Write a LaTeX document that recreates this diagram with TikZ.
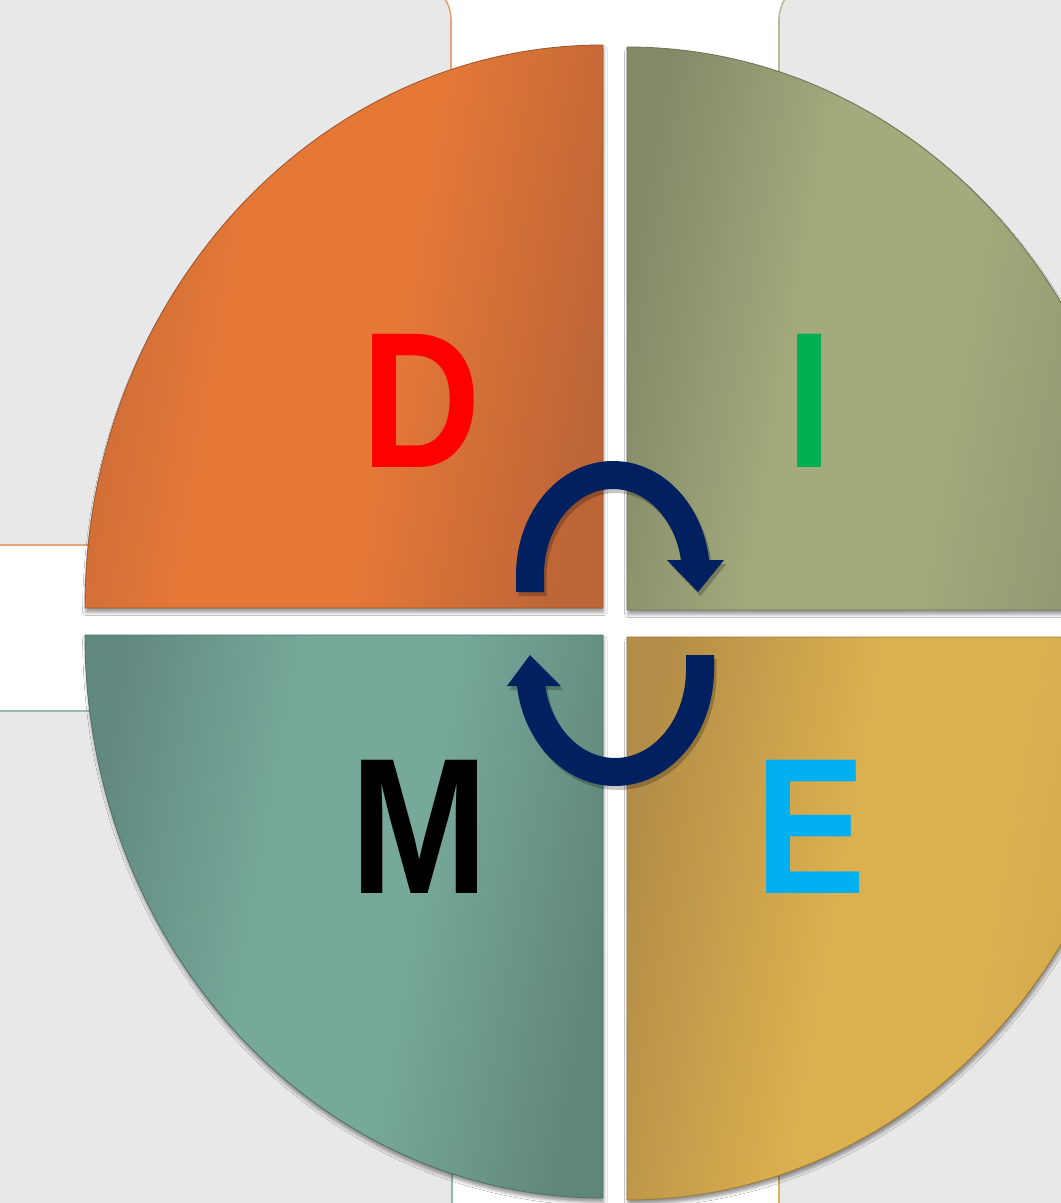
\documentclass[tikz,border=0pt]{standalone}
\usepackage{fontspec}
\usepackage{graphicx}
\setmainfont{Liberation Sans}
\usetikzlibrary{shadows.blur}
\definecolor{bggray}{HTML}{E8E8E8}
\definecolor{lnorange}{HTML}{E6A47A}
\definecolor{lnolive}{HTML}{B7BC98}
\definecolor{lnteal}{HTML}{92BAB0}
\definecolor{lngold}{HTML}{D8B457}
\definecolor{orangeL}{HTML}{C96A37}
\definecolor{orangeM}{HTML}{E57837}
\definecolor{orangeR}{HTML}{BC6537}
\definecolor{oliveL}{HTML}{848968}
\definecolor{oliveM}{HTML}{A3AA7B}
\definecolor{oliveR}{HTML}{8F9670}
\definecolor{tealL}{HTML}{628980}
\definecolor{tealM}{HTML}{76A99A}
\definecolor{tealR}{HTML}{608679}
\definecolor{goldL}{HTML}{B48E48}
\definecolor{goldM}{HTML}{DCB04F}
\definecolor{goldR}{HTML}{CFA54B}
\definecolor{navy}{HTML}{002060}
\definecolor{letterred}{HTML}{FF0000}
\definecolor{lettergreen}{HTML}{00B050}
\definecolor{lettercyan}{HTML}{00B0F0}
\pgfdeclarehorizontalshading{orangeshade}{100bp}{color(0bp)=(orangeL); color(25bp)=(orangeL); color(39bp)=(orangeM); color(55bp)=(orangeM); color(75bp)=(orangeR); color(100bp)=(orangeR)}
\pgfdeclarehorizontalshading{oliveshade}{100bp}{color(0bp)=(oliveL); color(25bp)=(oliveL); color(42bp)=(oliveM); color(56bp)=(oliveM); color(75bp)=(oliveR); color(100bp)=(oliveR)}
\pgfdeclarehorizontalshading{tealshade}{100bp}{color(0bp)=(tealL); color(25bp)=(tealL); color(42bp)=(tealM); color(56bp)=(tealM); color(75bp)=(tealR); color(100bp)=(tealR)}
\pgfdeclarehorizontalshading{goldshade}{100bp}{color(0bp)=(goldL); color(25bp)=(goldL); color(45bp)=(goldM); color(60bp)=(goldM); color(75bp)=(goldR); color(100bp)=(goldR)}
\newcommand{\dimeletter}[1]{\scalebox{0.89}[1.04]{#1}}
\begin{document}
\begin{tikzpicture}[x=0.02cm,y=0.02cm,
  bgpanel/.style={fill=bggray, line width=0.9pt, rounded corners=0.8cm},
  quad/.style={blur shadow={shadow xshift=0.5pt, shadow yshift=-2.5pt, shadow blur radius=1.8pt, shadow opacity=40}, line width=0.5pt},
  letter/.style={font=\fontsize{106}{106}\selectfont\bfseries, inner sep=0pt, anchor=base},
  cyc/.style={draw=navy, line width=0.56cm},
  cycshadow/.style={draw=black, opacity=0.22, line width=0.56cm},
  cychead/.style={fill=navy}
]
\useasboundingbox (0,0) rectangle (1061,-1203);
\clip (0,0) rectangle (1061,-1203);
\fill[white] (0,0) rectangle (1061,-1203);

% background panels
\path[bgpanel, draw=lnorange] (-60,20) rectangle (451,-545);
\path[bgpanel, draw=lnolive] (779,20) rectangle (1120,-545);
\path[bgpanel, draw=lnteal] (-60,-711) rectangle (452,-1260);
\path[bgpanel, draw=lngold] (779,-711) rectangle (1120,-1260);

% quadrants
\shadedraw[quad, shading=orangeshade, shading angle=-10, draw=orangeR!85!black]
  (603,-608) -- (85,-608) arc[start angle=180, end angle=90, x radius=518, y radius=563] -- cycle;
\shadedraw[quad, shading=oliveshade, shading angle=-10, draw=oliveL!85!black]
  (627,-610) -- (627,-47) arc[start angle=90, end angle=0, x radius=518, y radius=563] -- cycle;
\shadedraw[quad, shading=tealshade, shading angle=-10, draw=tealR!85!black]
  (603,-635) -- (85,-635) arc[start angle=180, end angle=270, x radius=518, y radius=563] -- cycle;
\shadedraw[quad, shading=goldshade, shading angle=-10, draw=goldL!85!black]
  (627,-637) -- (627,-1200) arc[start angle=270, end angle=360, x radius=518, y radius=563] -- cycle;

% letters
\node[letter, text=letterred] (D) at (421,-467) {\dimeletter{D}};
\node[letter, text=lettergreen] (I) at (810,-467) {\dimeletter{I}};
\node[letter, text=black] (M) at (420,-893) {\dimeletter{M}};
\node[letter, text=lettercyan] (E) at (811,-893) {\dimeletter{E}};

% cycle arrows: shadows
\begin{scope}[xshift=0.05cm, yshift=-0.08cm]
\draw[cycshadow] (530,-592) -- (530,-575) arc[start angle=180, end angle=4, x radius=83, y radius=100];
\fill[black, opacity=0.22] (667,-560) -- (724,-560) -- (698,-592) -- cycle;
\draw[cycshadow] (700,-655) -- (700,-670) arc[start angle=0, end angle=-172, x radius=85, y radius=102];
\fill[black, opacity=0.22] (507,-686) -- (561,-686) -- (530,-655) -- cycle;
\end{scope}

% cycle arrows
\coordinate (topstart) at (530,-592);
\coordinate (toptip) at (698,-592);
\draw[cyc] (topstart) -- (530,-575) arc[start angle=180, end angle=4, x radius=83, y radius=100];
\fill[cychead] (667,-560) -- (724,-560) -- (toptip) -- cycle;

\coordinate (botstart) at (700,-655);
\coordinate (bottip) at (530,-655);
\draw[cyc] (botstart) -- (700,-670) arc[start angle=0, end angle=-172, x radius=85, y radius=102];
\fill[cychead] (507,-686) -- (561,-686) -- (bottip) -- cycle;
\end{tikzpicture}
\end{document}
